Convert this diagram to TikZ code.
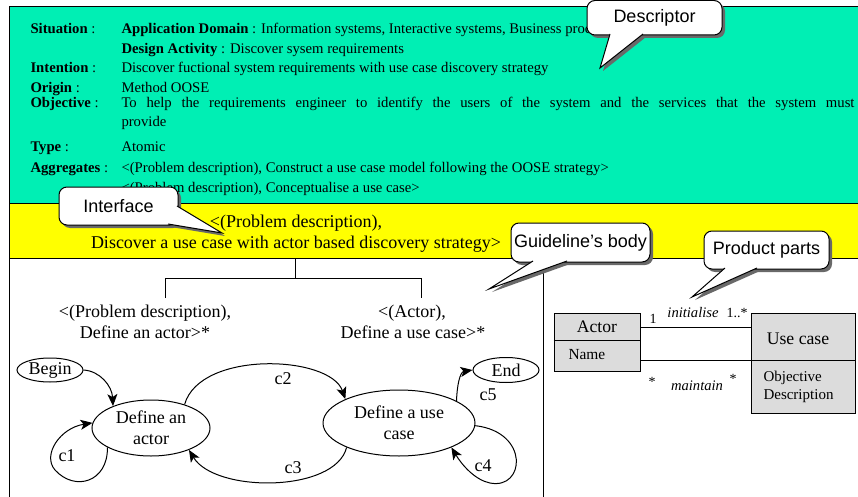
\documentclass[tikz,border=0pt]{standalone}
\usepackage{fontspec}
\setmainfont{Liberation Serif}
\newfontfamily\calfont{Liberation Sans}
\usetikzlibrary{shapes.geometric,arrows.meta,calc}
\definecolor{descgreen}{RGB}{0,239,180}
\definecolor{ifyellow}{RGB}{255,255,0}
\definecolor{umlgrey}{RGB}{220,220,220}
\definecolor{shadowgrey}{RGB}{105,105,105}
\newcommand\mycallout[9]{%
  \fill[shadowgrey, rounded corners=8pt] (#2+3,#3+3) rectangle (#4+3,#5+3);
  \fill[shadowgrey] ($(#7)+(3,3)$) -- ($(#9)+(3,3)$) -- ($(#8)+(3,3)$) -- cycle;
  \draw[fill=white, rounded corners=8pt] (#2,#3) rectangle (#4,#5);
  \fill[white] (#7) -- (#9) -- (#8) -- cycle;
  \draw (#7) -- (#9) -- (#8);
  \node[calltext] (#1) at ({(#2+#4)/2},{(#3+#5)/2}) {#6};
}
\begin{document}
\begin{tikzpicture}[x=1pt,y=-1pt, line width=1pt,
  gtxt/.style={anchor=base west, inner sep=0pt, font=\fontsize{14.7}{17}\selectfont},
  btxt/.style={anchor=base, inner sep=0pt, font=\fontsize{18}{21}\selectfont},
  state/.style={ellipse, draw, inner sep=0pt, align=center, font=\fontsize{18}{21}\selectfont},
  trans/.style={-{Stealth[length=12pt,width=10pt,inset=3pt]}},
  clabel/.style={inner sep=0pt, font=\fontsize{18}{21}\selectfont},
  calltext/.style={inner sep=0pt, font=\calfont\fontsize{18}{21}\selectfont},
  umlbox/.style={draw, fill=umlgrey, inner sep=0pt},
  umltxt/.style={inner sep=0pt, font=\fontsize{15}{18}\selectfont},
  multtxt/.style={anchor=base, inner sep=0pt, font=\fontsize{14}{16}\selectfont},
  roletxt/.style={anchor=base, inner sep=0pt, font=\itshape\fontsize{14.6}{17}\selectfont}
]
\useasboundingbox (0,0) rectangle (858,497);
\clip (0,0) rectangle (858,497);
\fill[white] (0,0) rectangle (858,497);

% regions
\draw[fill=descgreen] (9,7) rectangle (880,203);
\draw[fill=ifyellow] (9,203) rectangle (880,258);
\draw (9,258) -- (9,510);
\draw (543,258) -- (543,510);

% descriptor text
\node[gtxt] (sitk) at (30,34) {\textbf{Situation} :};
\node[gtxt] (sitv) at (121,34) {\textbf{Application Domain} : Information systems, Interactive systems, Business processes};
\node[gtxt] (desv) at (121,54) {\textbf{Design Activity} : Discover sysem requirements};
\node[gtxt] (intk) at (30,73) {\textbf{Intention} :};
\node[gtxt] (intv) at (121,73) {Discover fuctional system requirements with use case discovery strategy};
\node[gtxt] (orik) at (30,93) {\textbf{Origin} :};
\node[gtxt] (oriv) at (121,93) {Method OOSE};
\node[gtxt] (objk) at (30,108) {\textbf{Objective} :};
\node[gtxt] (objv) at (121,108) {\makebox[733pt][s]{To help the requirements engineer to identify the users of the system and the services that the system must}};
\node[gtxt] (objw) at (121,127) {provide};
\node[gtxt] (typk) at (30,152) {\textbf{Type} :};
\node[gtxt] (typv) at (121,152) {Atomic};
\node[gtxt] (aggk) at (30,172) {\textbf{Aggregates} :};
\node[gtxt] (aggv) at (121,172) {<(Problem description), Construct a use case model following the OOSE strategy>};
\node[gtxt] (aggw) at (121,192) {<(Problem description), Conceptualise a use case>};

% interface text
\node[btxt] (ifl1) at (296,227) {<(Problem description),};
\node[btxt] (ifl2) at (296,248) {Discover a use case with actor based discovery strategy>};

% tree
\coordinate (troot) at (295,258);
\coordinate (tjoin) at (295,278);
\coordinate (tleft) at (165,298);
\coordinate (tright) at (421,298);
\draw (troot) -- (tjoin);
\draw (tleft) -- (tleft |- tjoin) -- (tright |- tjoin) -- (tright);

\node[btxt] (pl1) at (145,317) {<(Problem description),};
\node[btxt] (pl2) at (145,338) {Define an actor>*};
\node[btxt] (pr1) at (412,317) {<(Actor),};
\node[btxt] (pr2) at (413,338) {Define a use case>*};

% map
\node[state, minimum width=66pt, minimum height=24pt] (begin) at (50,370) {Begin};
\node[state, minimum width=118pt, minimum height=56pt] (act) at (151,428) {Define an\\actor};
\node[state, minimum width=152pt, minimum height=66pt] (uc) at (399,423) {Define a use\\case};
\node[state, minimum width=66pt, minimum height=25pt] (end) at (506,370) {End};

\draw[trans] (begin.east) .. controls (100,371) and (112,386) .. (act.150);
\draw[trans] (act.204) .. controls (108,482) and (75,492) .. (55,470) .. controls (42,455) and (60,428) .. (act.175);
\draw[trans] (act.35) .. controls (200,350) and (330,355) .. (uc.156);
\draw[trans] (uc.205) .. controls (335,493) and (215,493) .. (act.330);
\draw[trans] (uc.-2) .. controls (530,432) and (525,490) .. (490,483) .. controls (475,480) and (462,465) .. (uc.-25);
\draw[trans] (uc.21) .. controls (457,385) and (460,372) .. (end.west);

\node[clabel] (c1) at (67,456) {c1};
\node[clabel] (c2) at (283,379) {c2};
\node[clabel] (c3) at (293,468) {c3};
\node[clabel] (c4) at (483,466) {c4};
\node[clabel] (c5) at (488,395) {c5};

% product parts
\node[umlbox, minimum width=86pt, minimum height=58pt] (actbox) at (597,342) {};
\draw ([yshift=-28pt]actbox.north west) -- ([yshift=-28pt]actbox.north east);
\node[umlbox, minimum width=104pt, minimum height=100pt] (ucbox) at (803,363) {};
\draw ([yshift=-48pt]ucbox.north west) -- ([yshift=-48pt]ucbox.north east);
\draw ([yshift=-15pt]actbox.north east) -- ([yshift=-15pt]ucbox.north west);
\draw ([yshift=-48pt]actbox.north east) -- ([yshift=-48pt]ucbox.north west);

\node[inner sep=0pt, font=\fontsize{17.6}{20}\selectfont] (actname) at (597,327) {Actor};
\node[umltxt, anchor=base west, font=\fontsize{15.4}{18}\selectfont] (actattr) at (568,359) {Name};
\node[inner sep=0pt, anchor=base, font=\fontsize{17.7}{20}\selectfont] (ucname) at (798,344) {Use case};
\node[umltxt, anchor=base west] (ucattr1) at (763,381) {Objective};
\node[umltxt, anchor=base west] (ucattr2) at (763,399) {Description};

\node[multtxt] (m1) at (653,323) {1};
\node[roletxt] (r1) at (693,317) {initialise};
\node[multtxt] (m2) at (737,317) {1..*};
\node[multtxt] (m3) at (652,386) {*};
\node[roletxt] (r2) at (697,390) {maintain};
\node[multtxt] (m4) at (733,383) {*};

% callouts
\mycallout{desc}{587}{0.5}{722}{35}{Descriptor}{610,34}{643,34}{600,68}
\mycallout{intf}{59}{187}{178}{225}{Interface}{177,206}{168,224}{222,233}
\mycallout{body}{511}{223}{650}{262}{Guideline’s body}{533,261}{567,261}{489,289}
\mycallout{prod}{704}{231}{829}{269}{Product parts}{725,268}{757,268}{692,297}
\end{tikzpicture}
\end{document}
